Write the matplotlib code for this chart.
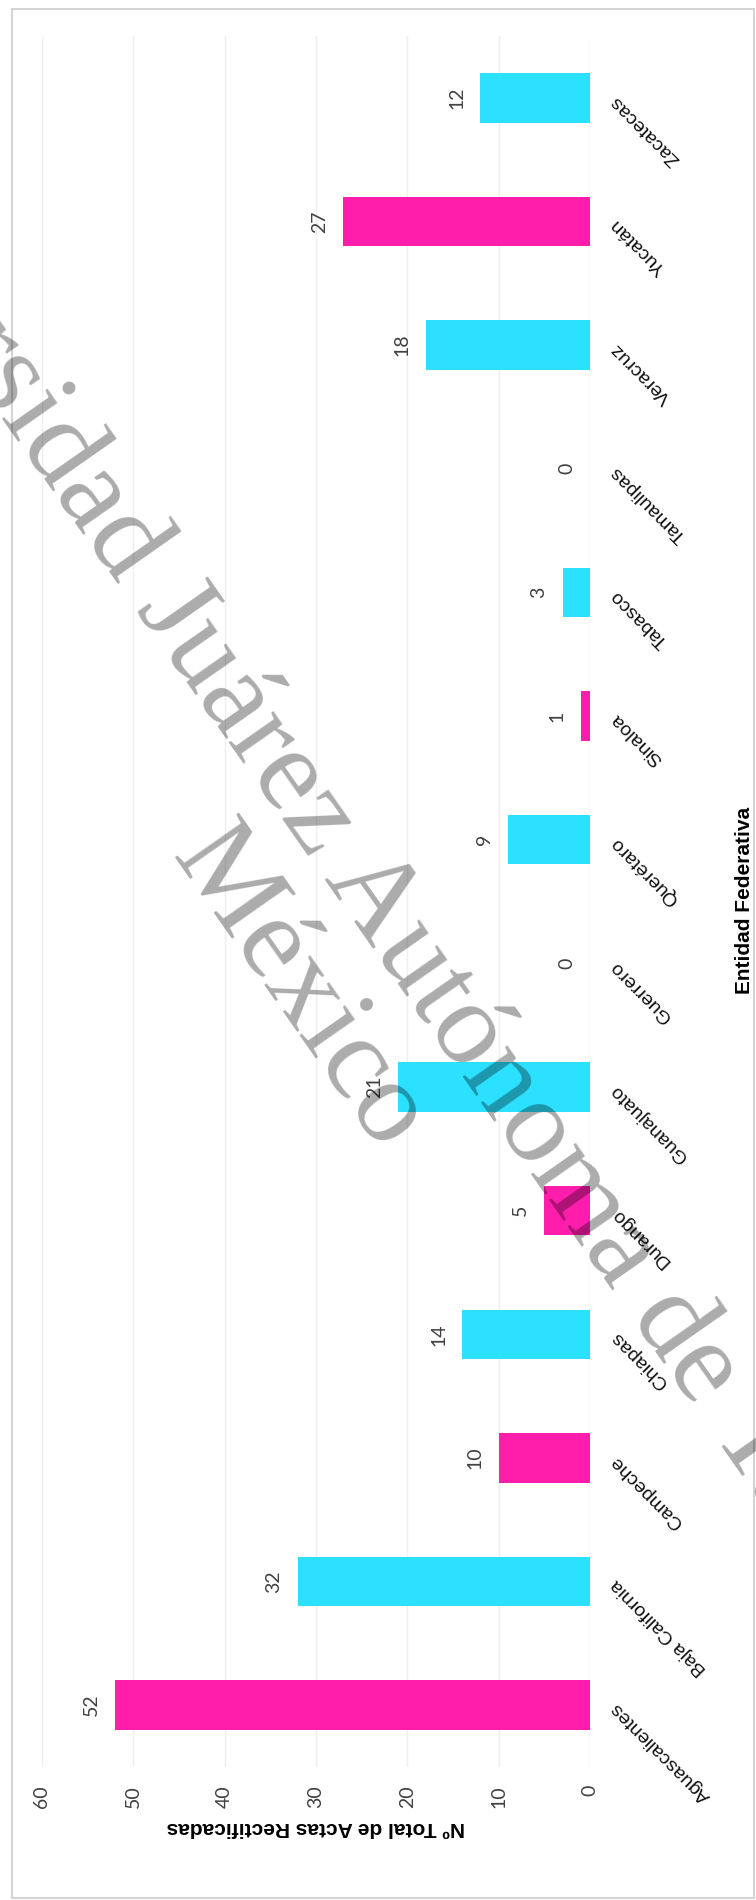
import matplotlib
matplotlib.use("Agg")
import matplotlib.pyplot as plt
from matplotlib.patches import Rectangle

# data (bottom to top in the picture)
states = ['Aguascalientes', 'Baja California', 'Campeche', 'Chiapas', 'Durango',
          'Guanajuato', 'Guerrero', 'Querétaro', 'Sinaloa', 'Tabasco',
          'Tamaulipas', 'Veracruz', 'Yucatán', 'Zacatecas']
values = [52, 32, 10, 14, 5, 21, 0, 9, 1, 3, 0, 18, 27, 12]
value_ticks = [0, 10, 20, 30, 40, 50, 60]

pink = '#ff1dac'
cyan = '#2ce0ff'
colors = [pink if i % 2 == 0 else cyan for i in range(len(states))]

fig = plt.figure(figsize=(7.56, 19), dpi=100)
ax = fig.add_axes([42 / 756, 1 - 1767 / 1900, 548 / 756, 1731 / 1900])

pos = list(range(len(states)))
ax.barh(pos, values, height=0.4, color=colors, zorder=2)

ax.set_xlim(60, 0)
ax.set_ylim(-0.5, len(states) - 0.5)

# value axis (bottom)
ax.set_xticks(value_ticks)
ax.set_xticklabels([str(t) for t in value_ticks], rotation=90,
                   fontsize=14, family='Lato', color='#404040')
ax.tick_params(axis='x', length=0, pad=13)
ax.grid(axis='x', color='#efefef', lw=1, zorder=0)

# category axis (right)
ax.yaxis.tick_right()
ax.set_yticks(pos)
ax.set_yticklabels(states, fontsize=14, family='Liberation Sans', color='#111111')
for lab in ax.get_yticklabels():
    lab.set_rotation(135)
    lab.set_rotation_mode('anchor')
    lab.set_ha('right')
    lab.set_va('center')
ax.tick_params(axis='y', length=0, pad=17)

for s in ax.spines.values():
    s.set_visible(False)

# data labels
for p, v in zip(pos, values):
    ax.annotate(str(v), (v, p), xytext=(-17, 0), textcoords='offset points',
                rotation=90, ha='center', va='center', fontsize=14,
                family='Lato', color='#404040')

# axis titles
title_font = ['Liberation Sans Narrow', 'Liberation Sans']
fig.text((42 + 590) / 2 / 756, 1 - 1828 / 1900, 'Nº Total de Actas Rectificadas',
         rotation=180, ha='center', va='center', fontsize=15,
         fontweight='bold', family=title_font)
fig.text(745 / 756, 1 - 900 / 1900, 'Entidad Federativa', rotation=90,
         ha='center', va='center', fontsize=15, fontweight='bold',
         family=title_font)

# frame
fig.patches.append(Rectangle((12 / 756, 2 / 1900), 742 / 756, 1889 / 1900,
                             transform=fig.transFigure, fill=False,
                             edgecolor='#d4d4d4', lw=1.5))

# watermark
fig.text(0.505, 0.520, 'Universidad Juárez Autónoma de Tabasco', rotation=-55,
         rotation_mode='anchor', ha='center', va='center', fontsize=86,
         family='Liberation Serif', color='black', alpha=0.33, zorder=10)
fig.text(0.395, 0.4795, 'México', rotation=-55,
         rotation_mode='anchor', ha='center', va='center', fontsize=86,
         family='Liberation Serif', color='black', alpha=0.33, zorder=10)

fig.savefig('out.png', dpi=100)
